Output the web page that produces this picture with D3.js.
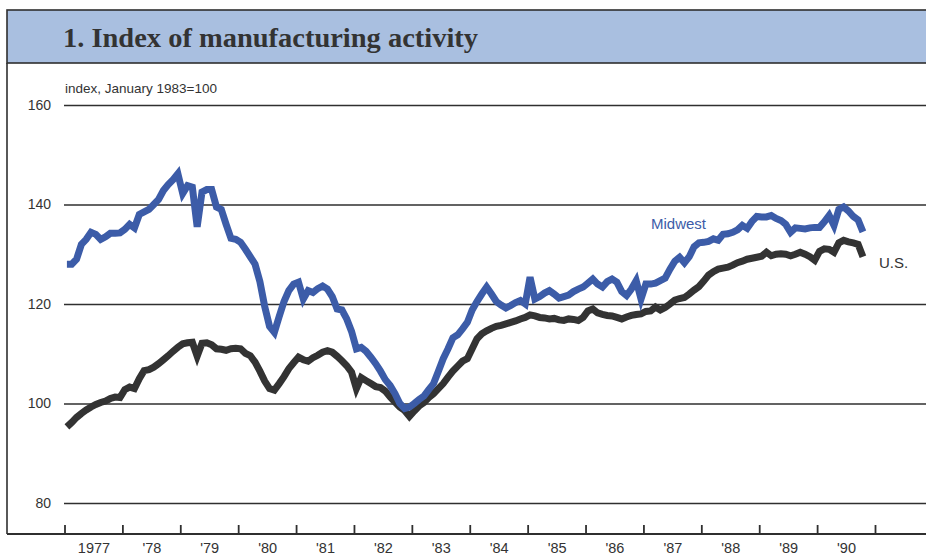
<!DOCTYPE html>
<html>
<head>
<meta charset="utf-8">
<script src="https://cdn.jsdelivr.net/npm/d3@7"></script>
<style>
  body { margin: 0; background: #fff; }
  svg { display: block; }
</style>
</head>
<body>
<svg id="chart" width="926" height="557"></svg>
<script>
// monthly index values, Jan 1977 .. Oct 1990 (January 1983 = 100)
var startYear = 1977;
var midwest = [
  128, 128, 129, 132, 133, 134.4, 134, 133, 133.5, 134.2, 134.2, 134.3,
  135, 136, 135.3, 138, 138.5, 139, 140, 141, 142.8, 144, 145, 146.2,
  142.2, 143.8, 143.5, 135.5, 142.5, 143, 143, 139.5, 139, 136, 133.2, 133,
  132.4, 131, 129.5, 128, 124.5, 119.5, 115.5, 114.3, 117.5, 120.5, 122.7, 124,
  124.4, 121, 122.7, 122.3, 123.1, 123.6, 123, 121.5, 119, 118.8, 117, 114.5,
  111, 111.3, 110.5, 109.3, 108, 106.5, 104.8, 103.6, 102, 100, 99, 99.3,
  100, 100.8, 101.5, 102.8, 104, 106.5, 109, 111, 113.2, 113.8, 115, 116.3,
  118.8, 120.5, 122, 123.4, 122, 120.5, 119.8, 119.2, 119.7, 120.3, 120.7, 120,
  125.4, 121, 121.5, 122.2, 122.7, 122, 121.2, 121.5, 121.8, 122.5, 123, 123.4,
  124.2, 125, 124, 123.4, 124.5, 125, 124.4, 122.5, 121.7, 123, 124.7, 121,
  124, 124, 124.2, 124.7, 125.2, 127, 128.6, 129.4, 128.3, 129.5, 131.5, 132.3,
  132.4, 132.6, 133.1, 132.8, 134, 134.1, 134.4, 134.9, 135.8, 135.2, 136.6, 137.6,
  137.5, 137.5, 137.8, 137.2, 136.8, 136, 134.4, 135.3, 135.2, 135.1, 135.3, 135.4,
  135.4, 136.5, 137.8, 135.8, 139, 139.5, 138.7, 137.6, 136.9, 134.5
];
var us = [
  95.3, 96.2, 97.2, 98, 98.7, 99.3, 99.8, 100.2, 100.5, 101, 101.3, 101.2,
  102.8, 103.3, 103, 105, 106.6, 106.8, 107.3, 108, 108.8, 109.6, 110.5, 111.3,
  112, 112.2, 112.3, 109.5, 112.1, 112.2, 111.8, 111, 110.9, 110.7, 111, 111.1,
  111, 110.1, 109.6, 108.3, 106.5, 104.5, 103, 102.7, 104, 105.4, 107, 108.2,
  109.3, 108.8, 108.5, 109.2, 109.7, 110.3, 110.6, 110.3, 109.5, 108.6, 107.6, 106.3,
  103, 105.2, 104.6, 104, 103.4, 103.2, 102.5, 101.3, 100.3, 99.3, 98.6, 97.4,
  98.5, 99.5, 100.2, 101.2, 102, 103, 104, 105.3, 106.5, 107.5, 108.5, 109,
  111, 113, 114, 114.6, 115.1, 115.5, 115.7, 116, 116.3, 116.6, 117, 117.3,
  117.8, 117.6, 117.3, 117.2, 117, 117.1, 116.8, 116.7, 117, 116.9, 116.7, 117.3,
  118.6, 119, 118.2, 117.9, 117.7, 117.6, 117.3, 117, 117.4, 117.7, 117.9, 118,
  118.5, 118.6, 119.4, 118.8, 119.3, 120, 120.8, 121.1, 121.3, 122, 122.8, 123.5,
  124.6, 125.8, 126.5, 127, 127.2, 127.4, 127.8, 128.3, 128.6, 129, 129.2, 129.4,
  129.6, 130.4, 129.7, 130, 130.1, 130, 129.7, 130, 130.4, 130, 129.5, 128.8,
  130.6, 131.1, 131, 130.4, 132.3, 132.8, 132.5, 132.3, 132, 129.5
];
var yearTicks = d3.range(1977, 1992);
var yearLabels = ["1977", "'78", "'79", "'80", "'81", "'82", "'83", "'84", "'85", "'86", "'87", "'88", "'89", "'90"];
var yTicks = [80, 100, 120, 140, 160];

var svg = d3.select("#chart");
var ink = "#2f2f2f";

var x = d3.scaleLinear().domain([1977, 1991]).range([64.5, 875]);
var y = d3.scaleLinear().domain([80, 160]).range([503, 105]);

// frame + title band
svg.append("rect")
    .attr("x", 7).attr("y", 10).attr("width", 930).attr("height", 53)
    .style("fill", "#a9bfe0")
    .style("stroke", ink).style("stroke-width", 1.6);
svg.append("line")
    .attr("x1", 7).attr("x2", 7).attr("y1", 63).attr("y2", 534)
    .style("stroke", ink).style("stroke-width", 1.6);

svg.append("text")
    .attr("x", 63).attr("y", 47)
    .attr("textLength", 415)
    .attr("lengthAdjust", "spacingAndGlyphs")
    .style("font-family", "'Liberation Serif', 'DejaVu Serif', serif")
    .style("font-weight", "bold")
    .style("font-size", "27px")
    .style("fill", "#333")
    .text("1. Index of manufacturing activity");

// horizontal gridlines with labels
var yAxis = svg.append("g")
    .attr("transform", "translate(64,0)")
    .call(d3.axisLeft(y).tickValues(yTicks).tickSize(-870).tickPadding(13));
yAxis.select(".domain").remove();
yAxis.selectAll(".tick line").style("stroke", ink).style("stroke-width", 1.6);
yAxis.selectAll(".tick text")
    .style("font-family", "'Liberation Sans', Arial, sans-serif")
    .style("font-size", "14px")
    .style("fill", "#333");

svg.append("text")
    .attr("x", 65).attr("y", 93)
    .style("font-family", "'Liberation Sans', Arial, sans-serif")
    .style("font-size", "13.5px")
    .style("fill", "#333")
    .text("index, January 1983=100");

// bottom axis: year ticks point upward, labels sit between them
var xAxis = svg.append("g")
    .attr("transform", "translate(0,534)")
    .call(d3.axisBottom(x).tickValues(yearTicks).tickSize(-9).tickFormat(""));
xAxis.select(".domain").remove();
xAxis.selectAll(".tick line").style("stroke", ink).style("stroke-width", 1.8);
svg.append("line")
    .attr("x1", 7).attr("x2", 926).attr("y1", 534).attr("y2", 534)
    .style("stroke", ink).style("stroke-width", 1.8);

var xLabels = svg.append("g")
    .attr("transform", "translate(0,534)")
    .call(d3.axisBottom(x)
        .tickValues(yearLabels.map(function (d, i) { return 1977.5 + i; }))
        .tickSize(0).tickPadding(9)
        .tickFormat(function (d, i) { return yearLabels[i]; }));
xLabels.select(".domain").remove();
xLabels.selectAll(".tick text")
    .style("font-family", "'Liberation Sans', Arial, sans-serif")
    .style("font-size", "14.5px")
    .style("fill", "#333");

// series
function monthX(d, i) { return x(startYear + (i + 0.5) / 12); }
var line = d3.line().x(monthX).y(function (d) { return y(d); });

svg.append("path").datum(us)
    .attr("d", line)
    .style("fill", "none").style("stroke", "#333333")
    .style("stroke-width", 7).style("stroke-linejoin", "miter");
svg.append("path").datum(midwest)
    .attr("d", line)
    .style("fill", "none").style("stroke", "#3c5ca8")
    .style("stroke-width", 7).style("stroke-linejoin", "miter");

svg.append("text")
    .attr("x", 651).attr("y", 229)
    .style("font-family", "'Liberation Sans', Arial, sans-serif")
    .style("font-size", "15px")
    .style("fill", "#3c5ca8")
    .text("Midwest");
svg.append("text")
    .attr("x", 879).attr("y", 268)
    .style("font-family", "'Liberation Sans', Arial, sans-serif")
    .style("font-size", "15px")
    .style("fill", "#333")
    .text("U.S.");
</script>
</body>
</html>
